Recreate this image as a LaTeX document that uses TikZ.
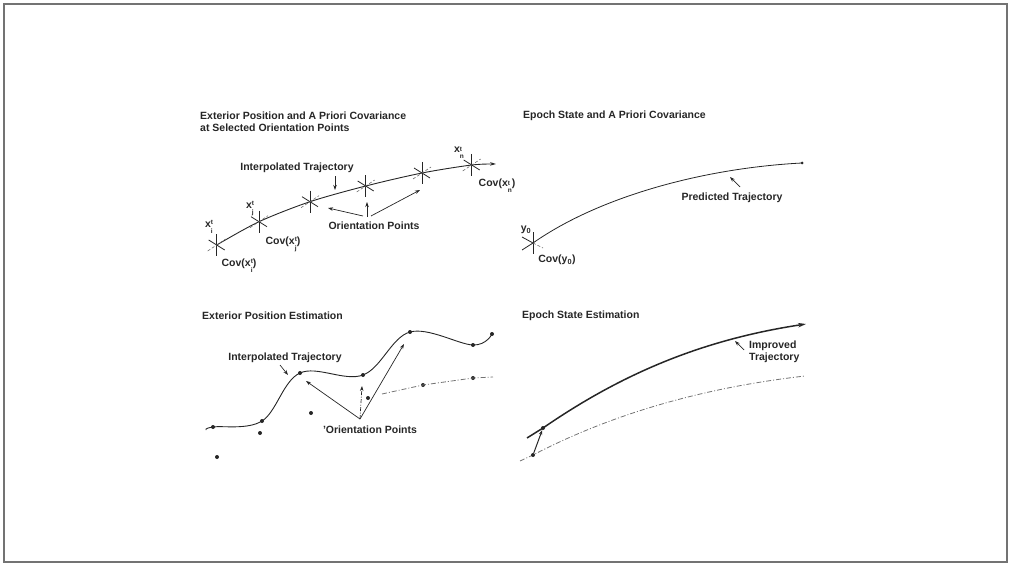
\documentclass[tikz,border=0pt]{standalone}
\usepackage{fontspec}
\setmainfont{Liberation Sans}
\usetikzlibrary{arrows.meta,calc}
\newcommand\supsubstack[2]{\raisebox{-1.1ex}{\fontsize{6.5}{6.5}\selectfont\shortstack[l]{#1\\[1.2pt]#2}}}
\newcommand\xlab[1]{x\supsubstack{t}{#1}}
\begin{document}
\begin{tikzpicture}[x=1pt,y=-1pt,
  lab/.style={font=\fontsize{10.5}{12}\selectfont\bfseries, text=black!85, inner sep=0pt, align=left},
  traj/.style={line width=0.9pt, black!85},
  thick traj/.style={line width=1.5pt, black!85},
  dashtraj/.style={line width=0.8pt, black!55, dash pattern=on 5pt off 2pt on 1pt off 2pt},
  ptr/.style={line width=0.7pt, black!85, -{Stealth[length=5pt,width=3.5pt]}},
  dashptr/.style={line width=0.7pt, black!85, dash pattern=on 4pt off 1.5pt on 1pt off 1.5pt, -{Stealth[length=5pt,width=3.5pt]}},
  dot/.style={circle, fill=black!85, inner sep=0pt, minimum size=4pt},
  starline/.style={line width=0.8pt, black!85},
  starfaint/.style={line width=0.6pt, black!60, dash pattern=on 3pt off 2pt}]
\useasboundingbox (0,0) rectangle (1012,567);
% frame
\draw[black!55, line width=1.6pt] (4,4) rectangle (1007,562);

% ================= top-left panel =================
\node[lab, anchor=west] (tlt) at (200,122) {Exterior Position and A Priori Covariance\\at Selected Orientation Points};
\coordinate (a1) at (216.7,245);
\coordinate (a2) at (259,221.7);
\coordinate (a3) at (310,201.7);
\coordinate (a4) at (365.7,186);
\coordinate (a5) at (422,173);
\coordinate (a6) at (471.7,165);
\coordinate (a7) at (496,164);
\draw[traj, -{Stealth[length=6pt,width=3.5pt]}] plot[smooth, tension=0.5] coordinates {(a1) (a2) (a3) (a4) (a5) (a6) (a7)};
\foreach \p in {a1,a2,a3,a4,a5,a6}{
  \draw[starline] ($(\p)+(0,-11)$) -- ($(\p)+(0,11)$);
  \draw[starline] ($(\p)+(-8,-5)$) -- ($(\p)+(8,5)$);
  \draw[starfaint] ($(\p)+(-9,6)$) -- ($(\p)+(9,-6)$);
}
\node[lab] (xi) at (209,227) {\xlab{i}};
\node[lab] (xj) at (250,209) {\xlab{j}};
\node[lab] (xn) at (459,153) {\xlab{n}};
\node[lab] (ci) at (239,266) {Cov(\xlab{i})};
\node[lab] (cj) at (283,244) {Cov(\xlab{j})};
\node[lab] (cn) at (497,186) {Cov(\xlab{n})};
\node[lab] (it1) at (297,168) {Interpolated Trajectory};
\coordinate (it1s) at (335,176);
\coordinate (it1e) at (335,190);
\draw[ptr] (it1s) -- (it1e);
\node[lab] (op1) at (374,226) {Orientation Points};
\coordinate (op1a) at (363,216);
\coordinate (op1b) at (367,217);
\coordinate (op1c) at (371,216);
\coordinate (op1ta) at (328,208);
\coordinate (op1tb) at (367,202);
\coordinate (op1tc) at (420,190);
\draw[ptr] (op1a) -- (op1ta);
\draw[ptr] (op1b) -- (op1tb);
\draw[ptr] (op1c) -- (op1tc);

% ================= top-right panel =================
\node[lab, anchor=west] (trt) at (523,116) {Epoch State and A Priori Covariance};
\coordinate (b0) at (533,243);
\coordinate (b1) at (802,163);
\draw[traj, line width=0.8pt] (b0) .. controls (600,196) and (705,168) .. (b1);
\node[dot, minimum size=3pt] (b1d) at (b1) {};
\draw[starline] ($(b0)+(0,-11)$) -- ($(b0)+(0,11)$);
\draw[starline] ($(b0)+(-11,-6)$) -- ($(b0)+(0,0)$);
\draw[starline] ($(b0)+(-11,7)$) -- ($(b0)+(0,0)$);
\draw[starfaint] ($(b0)+(0,0)$) -- ($(b0)+(10,5)$);
\node[lab] (y0) at (526,230) {y\textsubscript{0}};
\node[lab] (cy0) at (557,260) {Cov(y\textsubscript{0})};
\node[lab] (pt) at (732,198) {Predicted Trajectory};
\coordinate (pts) at (740,187);
\coordinate (pte) at (730,177);
\draw[ptr] (pts) -- (pte);

% ================= bottom-left panel =================
\node[lab, anchor=west] (blt) at (202,316) {Exterior Position Estimation};
\coordinate (c0) at (206,430);
\coordinate (c1) at (213,427);
\coordinate (c2) at (262,421);
\coordinate (c3) at (300,373);
\coordinate (c4) at (363,375);
\coordinate (c5) at (410,332);
\coordinate (c6) at (473,345);
\coordinate (c7) at (492,334);
\draw[traj] plot[smooth, tension=0.6] coordinates {(c0) (c1) (c2) (c3) (c4) (c5) (c6) (c7)};
\foreach \p in {c1,c2,c3,c4,c5,c6,c7}{ \node[dot] at (\p) {}; }
\coordinate (d1) at (217,457);
\coordinate (d2) at (260,433);
\coordinate (d3) at (311,413);
\coordinate (d4) at (368,398);
\coordinate (d5) at (423,385);
\coordinate (d6) at (473,378);
\coordinate (d7) at (493,377);
\coordinate (d0) at (382,394);
\foreach \p in {d1,d2,d3,d4,d5,d6}{ \node[dot] at (\p) {}; }
\draw[dashtraj] (d0) -- (d5) -- (d6) -- (d7);
\node[lab] (it2) at (285,358) {Interpolated Trajectory};
\coordinate (it2s) at (280,365);
\coordinate (it2e) at (288,375);
\draw[ptr] (it2s) -- (it2e);
\node[lab] (op2) at (370,430) {'Orientation Points};
\coordinate (op2s) at (360,419);
\coordinate (op2ta) at (306,381);
\coordinate (op2tb) at (362,386);
\coordinate (op2tc) at (404,344);
\draw[ptr] (op2s) -- (op2ta);
\draw[dashptr] (op2s) -- (op2tb);
\draw[ptr] (op2s) -- (op2tc);

% ================= bottom-right panel =================
\node[lab, anchor=west] (brt) at (522,316) {Epoch State Estimation};
\coordinate (e0) at (527,438);
\coordinate (e1) at (543,428);
\coordinate (e2) at (806,324);
\draw[thick traj, -{Stealth[length=8pt,width=4.5pt]}] (e0) -- (e1) .. controls (620,375) and (700,340) .. (e2);
\node[dot] (e1d) at (e1) {};
\coordinate (f0) at (520,461);
\coordinate (f1) at (533,455);
\coordinate (f2) at (805,376);
\draw[dashtraj] (f0) -- (f1) .. controls (610,415) and (700,388) .. (f2);
\node[dot] (f1d) at (f1) {};
\draw[ptr, line width=1pt] (f1d) -- (e1d);
\node[lab, anchor=west] (imp) at (749,352) {Improved\\Trajectory};
\coordinate (imps) at (744,350);
\coordinate (impe) at (735,341);
\draw[ptr] (imps) -- (impe);
\end{tikzpicture}
\end{document}
